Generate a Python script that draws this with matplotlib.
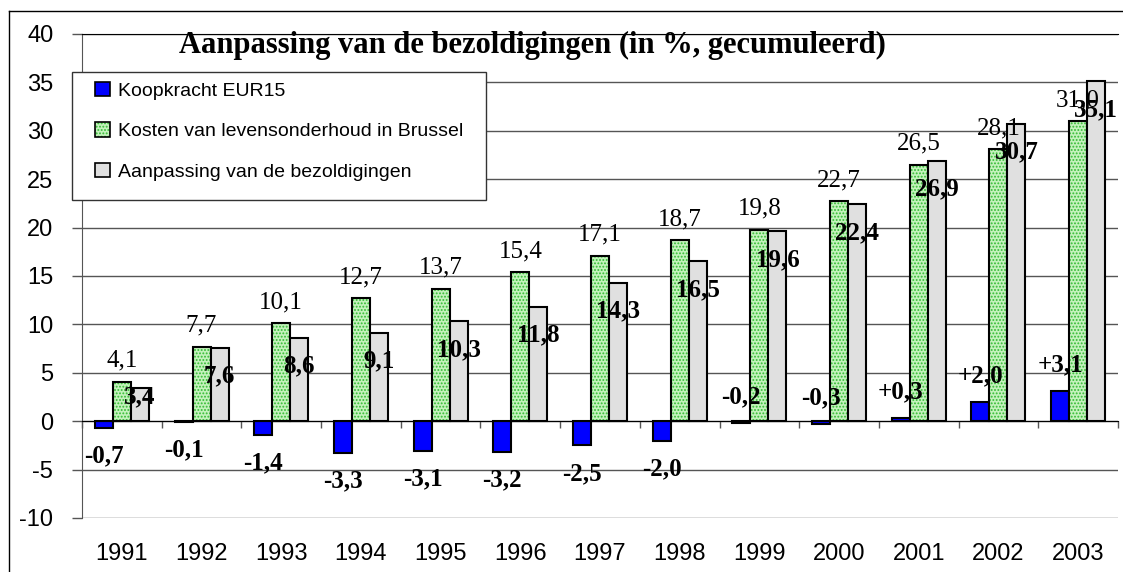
import matplotlib
matplotlib.use('Agg')
import matplotlib.pyplot as plt
import numpy as np
from matplotlib.patches import Patch, Rectangle
from matplotlib.lines import Line2D
from matplotlib.legend_handler import HandlerTuple

# ---------------- data ----------------
years = ['1991', '1992', '1993', '1994', '1995', '1996', '1997',
         '1998', '1999', '2000', '2001', '2002', '2003']
koopkracht = [-0.7, -0.1, -1.4, -3.3, -3.1, -3.2, -2.5, -2.0, -0.2, -0.3, 0.3, 2.0, 3.1]
kosten = [4.1, 7.7, 10.1, 12.7, 13.7, 15.4, 17.1, 18.7, 19.8, 22.7, 26.5, 28.1, 31.0]
aanpassing = [3.4, 7.6, 8.6, 9.1, 10.3, 11.8, 14.3, 16.5, 19.6, 22.4, 26.9, 30.7, 35.1]
series_names = ['Koopkracht EUR15',
                'Kosten van levensonderhoud in Brussel',
                'Aanpassing van de bezoldigingen']
title = 'Aanpassing van de bezoldigingen (in %, gecumuleerd)'
y_ticks = [-10, -5, 0, 5, 10, 15, 20, 25, 30, 35, 40]

# ---------------- style ----------------
SERIF = 'Liberation Serif'
SANS = 'Liberation Sans'
BLUE = '#0000ff'
GREEN_FACE = '#c4f2bc'
GREEN_HATCH = '#33bb33'
GREY = '#e0e0e0'
GRIDC = '#555555'
plt.rcParams['hatch.linewidth'] = 0.9

W, H = 1123, 572
PT = 0.72  # points per pixel at dpi 100

fig = plt.figure(figsize=(W / 100, H / 100), dpi=100)
ax = fig.add_axes([82 / W, 1 - 518 / H, (1118 - 82) / W, (518 - 34) / H])

x = np.arange(len(years))
bw = 0.226

ax.bar(x - bw, koopkracht, bw, color=BLUE, edgecolor='black', linewidth=1.5, zorder=3)
ax.bar(x, kosten, bw, color=GREEN_FACE, edgecolor=GREEN_HATCH, hatch='.....',
       linewidth=0, zorder=3)
ax.bar(x, kosten, bw, fill=False, edgecolor='black', linewidth=1.5, zorder=3)
ax.bar(x + bw, aanpassing, bw, color=GREY, edgecolor='black', linewidth=1.5, zorder=3)


def fmt(v, sign=False):
    s = f"{v:+.1f}" if (sign and v > 0) else f"{v:.1f}"
    return s.replace('.', ',')


LBL = 18
for i in range(len(years)):
    # blue labels
    v = koopkracht[i]
    above = int(years[i]) >= 1999
    off = 26 if above else -28
    ax.annotate(fmt(v, sign=True), xy=(x[i] - bw, v), xytext=(0, off * PT),
                textcoords='offset points', ha='center', va='center',
                fontsize=LBL, fontweight='bold', family=SERIF, zorder=5)
    # green labels
    v = kosten[i]
    ax.annotate(fmt(v), xy=(x[i], v), xytext=(0, 21 * PT),
                textcoords='offset points', ha='center', va='center',
                fontsize=LBL, family=SERIF, zorder=5)
    # grey labels
    v = aanpassing[i]
    ax.text(x[i] + bw, max(v - 2.9, 2.5), fmt(v), ha='center', va='center',
            fontsize=LBL, fontweight='bold', family=SERIF, zorder=5)

ax.set_xlim(-0.5, len(years) - 0.5)
ax.set_ylim(-10, 40)
ax.set_yticks(y_ticks)
ax.set_yticklabels([str(t) for t in y_ticks], fontsize=17, family=SANS)
ax.tick_params(axis='y', direction='out', length=10 * PT, width=1, color=GRIDC, pad=13.5)

ax.set_xticks(np.arange(-0.5, len(years), 1.0))
ax.set_xticklabels([])
ax.tick_params(axis='x', direction='out', length=7 * PT, width=1, color=GRIDC)

for i, yr in enumerate(years):
    ax.annotate(yr, xy=(x[i], 0), xycoords=('data', 'axes fraction'),
                xytext=(0, -42 * PT), textcoords='offset points',
                ha='center', va='baseline', fontsize=17, family=SANS)

ax.spines['right'].set_visible(False)
ax.spines['bottom'].set_position(('data', 0))
ax.spines['bottom'].set_color('black')
ax.spines['bottom'].set_zorder(4)
ax.spines['left'].set_color(GRIDC)
ax.spines['top'].set_color('black')
ax.yaxis.grid(True, color=GRIDC, linewidth=1)
ax.set_axisbelow(True)

# title
fig.text(532 / W, 1 - 45 / H, title, ha='center', va='center',
         fontsize=22, fontweight='bold', family=SERIF, zorder=4)

# legend box and legend
fig.add_artist(Rectangle((72 / W, 1 - 200 / H), (486 - 72) / W, 128 / H,
                         transform=fig.transFigure, facecolor='white',
                         edgecolor='#333333', linewidth=1, zorder=4))
h_blue = Patch(facecolor=BLUE, edgecolor='black', linewidth=1.2)
h_green = (Patch(facecolor=GREEN_FACE, edgecolor=GREEN_HATCH, hatch='.....', linewidth=0),
           Patch(fill=False, edgecolor='black', linewidth=1.2))
h_grey = Patch(facecolor=GREY, edgecolor='black', linewidth=1.2)
leg = fig.legend([h_blue, h_green, h_grey], series_names,
                 handler_map={tuple: HandlerTuple(ndivide=1, pad=0)},
                 loc='upper left', bbox_to_anchor=(95 / W, 1 - 82 / H),
                 frameon=False, borderpad=0, borderaxespad=0,
                 handlelength=0.77, handleheight=0.77, handletextpad=0.4,
                 labelspacing=1.15, prop={'family': SANS, 'size': 14})
leg.set_zorder(6)

# outer frame (top and left edges visible)
fig.add_artist(Line2D([8.5 / W, 8.5 / W], [0, 1 - 10.5 / H], color='black', lw=1,
                      transform=fig.transFigure))
fig.add_artist(Line2D([8.5 / W, 1], [1 - 10.5 / H, 1 - 10.5 / H], color='black', lw=1,
                      transform=fig.transFigure))

fig.savefig('out.png', dpi=100)
